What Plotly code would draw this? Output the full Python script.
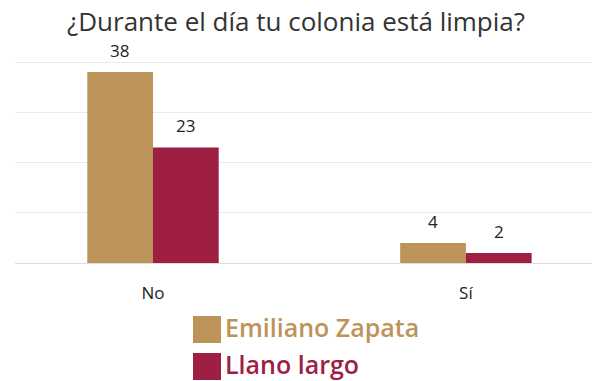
import plotly.graph_objects as go

categorias = ['No', 'Sí']
series = ['Emiliano Zapata', 'Llano largo']
emiliano_zapata = [38, 4]
llano_largo = [23, 2]
colores = ['#BC945A', '#9E1F42']

valores = [emiliano_zapata, llano_largo]

fig = go.Figure()
for nombre, vals, color in zip(series, valores, colores):
    fig.add_trace(go.Bar(
        x=categorias, y=vals, name=nombre,
        marker=dict(color=color, line=dict(width=0)),
        showlegend=False,
    ))

# etiquetas de valor encima de cada barra
desplaz = [-33, 33]
for k, vals in enumerate(valores):
    for c, v in zip(categorias, vals):
        fig.add_annotation(
            x=c, y=v, xref='x', yref='y', text=str(v), showarrow=False,
            xshift=desplaz[k], yshift=8, yanchor='bottom',
            font=dict(size=17, color='#222222', family='Open Sans'),
        )

# leyenda a mano (cuadros grandes); area del grafico: y de 60 a 263 px
def py(Y):
    return (263 - Y) / 203

for k, (nombre, color) in enumerate(zip(series, colores)):
    top = 316 + k * 37
    fig.add_shape(type='rect', xref='paper', yref='paper',
                  x0=(193 - 15) / 577, x1=(221 - 15) / 577,
                  y0=py(top + 27), y1=py(top),
                  fillcolor=color, line=dict(width=0))
    fig.add_annotation(xref='paper', yref='paper', x=(223 - 15) / 577,
                       y=py(top + 11), text=nombre,
                       showarrow=False, xanchor='left', yanchor='middle',
                       font=dict(size=25, color=color, family='Open Sans', weight=600))

fig.update_layout(
    width=592, height=381,
    margin=dict(l=15, r=0, t=60, b=118),
    paper_bgcolor='white', plot_bgcolor='white',
    title=dict(text='¿Durante el día tu colonia está limpia?', x=0.5, xanchor='center',
               y=1 - 22 / 381, yanchor='middle',
               font=dict(size=26, color='#333333', family='Open Sans', weight=500)),
    barmode='group', bargap=0.58, bargroupgap=0,
    xaxis=dict(range=[-0.441, 1.403], showgrid=False, showline=False,
               ticklabelstandoff=18,
               tickfont=dict(size=17, color='#222222', family='Open Sans')),
    yaxis=dict(range=[0, 40.4], tickvals=[0, 10, 20, 30, 40], showticklabels=False,
               gridcolor='#EAEAEA', gridwidth=1, zeroline=True,
               zerolinecolor='#DDDDDD', zerolinewidth=1),
)

fig.write_html('out.html', config={'displayModeBar': False},
               post_script="document.body.style.margin='0';")
